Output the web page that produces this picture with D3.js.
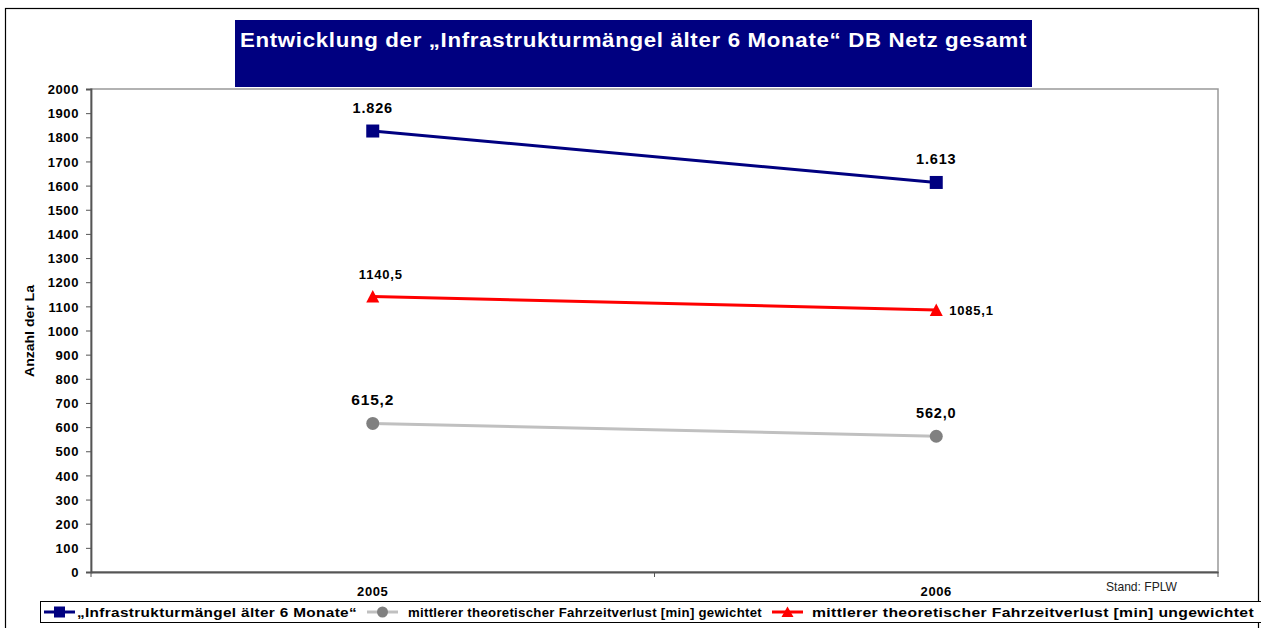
<!DOCTYPE html>
<html><head><meta charset="utf-8">
<script src="https://cdn.jsdelivr.net/npm/d3@7"></script>
<style>
html,body{margin:0;padding:0;background:#fff;}
svg{display:block;font-family:"Liberation Sans",Arial,sans-serif;}
</style></head>
<body>
<svg id="c" width="1261" height="628"></svg>
<script>
const categories = ["2005", "2006"];
const infraValues = [1826, 1613];
const gewichtetValues = [615.2, 562.0];
const ungewichtetValues = [1140.5, 1085.1];
const infraLabels = ["1.826", "1.613"];
const gewichtetLabels = ["615,2", "562,0"];
const ungewichtetLabels = ["1140,5", "1085,1"];
const yTicks = d3.range(0, 2001, 100);
const titleText = "Entwicklung der „Infrastrukturmängel älter 6 Monate“ DB Netz gesamt";
const yTitle = "Anzahl der La";
const standText = "Stand: FPLW";
const legendNames = ["„Infrastrukturmängel älter 6 Monate“", "mittlerer theoretischer Fahrzeitverlust [min] gewichtet", "mittlerer theoretischer Fahrzeitverlust [min] ungewichtet"];

const FONT = "Liberation Sans, Arial, sans-serif";
const svg = d3.select("#c");
// outer frame
svg.append("rect").attr("x",5.5).attr("y",8.5).attr("width",1253).attr("height",640)
  .attr("fill","#fff").attr("stroke","#000").attr("stroke-width",1.2);

// title
svg.append("rect").attr("x",235).attr("y",20).attr("width",797).attr("height",67).attr("fill","#000080");
svg.append("text").attr("x",240).attr("y",47).attr("textLength",787).attr("lengthAdjust","spacingAndGlyphs")
  .attr("fill","#fff").attr("font-weight","bold").attr("font-size",20).attr("letter-spacing","0.6px").text(titleText);

const L=91, R=1218, T=89, B=572;
const x = d3.scaleBand().domain(categories).range([L,R]);
const y = d3.scaleLinear().domain([0,2000]).range([B,T]);

// plot border
svg.append("rect").attr("x",L).attr("y",T).attr("width",R-L).attr("height",B-T)
  .attr("fill","none").attr("stroke","#999").attr("stroke-width",1.5);

// y axis
const yAxis = svg.append("g").attr("transform",`translate(${L},0)`)
  .call(d3.axisLeft(y).tickValues(yTicks).tickSize(5).tickPadding(7).tickFormat(d3.format("d")));
yAxis.select(".domain").attr("stroke","#555").attr("stroke-width",1.8);
yAxis.selectAll(".tick line").attr("stroke","#555");
yAxis.selectAll("text").attr("font-family",FONT).attr("dy","0.36em")
  .attr("font-size",13).attr("font-weight","bold").attr("fill","#000").attr("letter-spacing","0.6px");

// x axis
const xAxis = svg.append("g").attr("transform",`translate(0,${B})`)
  .call(d3.axisBottom(x).tickSize(0).tickPadding(14));
xAxis.select(".domain").attr("stroke","#555").attr("stroke-width",1.8);
xAxis.selectAll("text").attr("font-family",FONT).attr("dy","0.75em")
  .attr("font-size",13).attr("font-weight","bold").attr("fill","#000").attr("letter-spacing","0.6px");
// boundary ticks between categories
const bounds = [x(categories[0]), x(categories[1]), x(categories[1])+x.bandwidth()];
svg.append("g").selectAll("line").data(bounds).join("line")
  .attr("x1",d=>d).attr("x2",d=>d).attr("y1",B).attr("y2",B+5)
  .attr("stroke","#555").attr("stroke-width",1);

// y title
svg.append("text").attr("transform",`translate(34,377) rotate(-90)`)
  .attr("textLength",92).attr("lengthAdjust","spacingAndGlyphs")
  .attr("font-size",13).attr("font-weight","bold").text(yTitle);

// Stand
svg.append("text").attr("x",1106).attr("y",591).attr("textLength",71).attr("lengthAdjust","spacingAndGlyphs")
  .attr("font-size",13).attr("fill","#222").text(standText);

const cx = d => x(d)+x.bandwidth()/2;
const line = vals => d3.line().x((v,i)=>cx(categories[i])).y(v=>y(v))(vals);

// series
svg.append("path").attr("d",line(gewichtetValues)).attr("fill","none").attr("stroke","#c0c0c0").attr("stroke-width",3);
svg.append("path").attr("d",line(ungewichtetValues)).attr("fill","none").attr("stroke","#ff0000").attr("stroke-width",3);
svg.append("path").attr("d",line(infraValues)).attr("fill","none").attr("stroke","#000080").attr("stroke-width",3);

svg.append("g").selectAll("circle").data(gewichtetValues).join("circle")
  .attr("cx",(v,i)=>cx(categories[i])).attr("cy",v=>y(v)).attr("r",6.5).attr("fill","#808080");
const triPath = "M0,-6.5L6.5,6L-6.5,6Z";
svg.append("g").selectAll("path").data(ungewichtetValues).join("path")
  .attr("d",triPath).attr("transform",(v,i)=>`translate(${cx(categories[i])},${y(v)})`).attr("fill","#ff0000");
svg.append("g").selectAll("rect").data(infraValues).join("rect")
  .attr("x",(v,i)=>cx(categories[i])-6.5).attr("y",v=>y(v)-6.5).attr("width",13).attr("height",13).attr("fill","#000080");

// labels
svg.append("g").selectAll("text").data(infraValues).join("text")
  .attr("x",(v,i)=>cx(categories[i])).attr("y",v=>y(v)-18).attr("text-anchor","middle")
  .attr("font-size",14.5).attr("font-weight","bold").attr("letter-spacing","0.8px").text((v,i)=>infraLabels[i]);
svg.append("g").selectAll("text").data(gewichtetValues).join("text")
  .attr("x",(v,i)=>cx(categories[i])).attr("y",v=>y(v)-18).attr("text-anchor","middle")
  .attr("font-size",(v,i)=>i===0?15.5:14.5).attr("font-weight","bold").attr("letter-spacing","0.8px").text((v,i)=>gewichtetLabels[i]);
svg.append("text").attr("x",cx(categories[0])+8).attr("y",y(ungewichtetValues[0])-18).attr("text-anchor","middle")
  .attr("font-size",13).attr("font-weight","bold").attr("letter-spacing","0.8px").text(ungewichtetLabels[0]);
svg.append("text").attr("x",cx(categories[1])+13).attr("y",y(ungewichtetValues[1])+5).attr("text-anchor","start")
  .attr("font-size",13).attr("font-weight","bold").attr("letter-spacing","0.8px").text(ungewichtetLabels[1]);

// legend
svg.append("rect").attr("x",40.5).attr("y",601.5).attr("width",1230).attr("height",21)
  .attr("fill","#fff").attr("stroke","#000").attr("stroke-width",1);
const legItems = [
  {x:44, color:"#000080", mcolor:"#000080", m:"sq", tx:77, tl:280},
  {x:367, color:"#c0c0c0", mcolor:"#808080", m:"ci", tx:408, tl:354},
  {x:772, color:"#ff0000", mcolor:"#ff0000", m:"tr", tx:812, tl:442}
];
const ly = 612;
legItems.forEach((it,i)=>{
  svg.append("line").attr("x1",it.x).attr("x2",it.x+31).attr("y1",ly).attr("y2",ly)
    .attr("stroke",it.color).attr("stroke-width",3);
  const mx = it.x+15.5;
  if(it.m==="sq") svg.append("rect").attr("x",mx-5.5).attr("y",ly-5.5).attr("width",11).attr("height",11).attr("fill",it.mcolor);
  if(it.m==="ci") svg.append("circle").attr("cx",mx).attr("cy",ly).attr("r",5.5).attr("fill",it.mcolor);
  if(it.m==="tr") svg.append("path").attr("d","M0,-5.5L6,5L-6,5Z").attr("transform",`translate(${mx},${ly})`).attr("fill",it.mcolor);
  svg.append("text").attr("x",it.tx).attr("y",ly+4.5).attr("textLength",it.tl).attr("lengthAdjust","spacingAndGlyphs")
    .attr("font-size",13.5).attr("font-weight","bold").attr("letter-spacing","0.3px").text(legendNames[i]);
});
</script>
</body></html>
